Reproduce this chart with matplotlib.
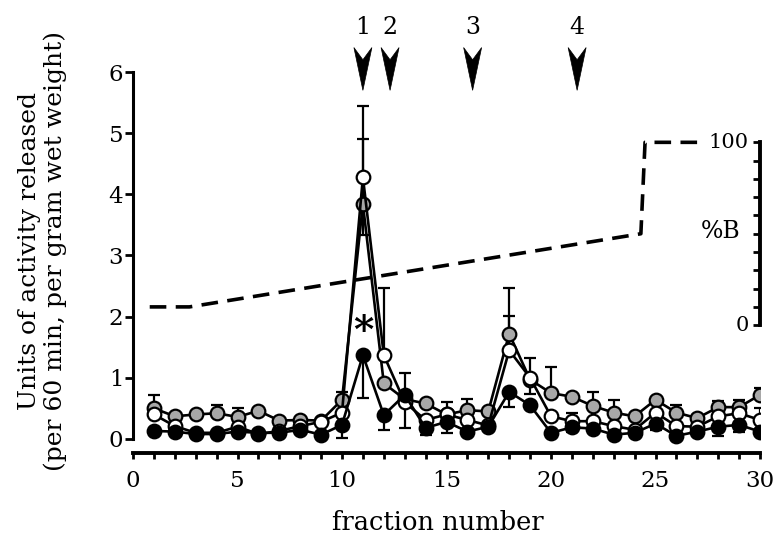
import matplotlib
matplotlib.use("Agg")
import matplotlib.pyplot as plt
import numpy as np
from matplotlib.patches import Polygon

plt.rcParams['font.family'] = ['DejaVu Serif']

# ---------------- data ----------------
fractions = [1, 2, 3, 4, 5, 6, 7, 8, 9, 10, 11, 12, 13, 14, 15,
             16, 17, 18, 19, 20, 21, 22, 23, 24, 25, 26, 27, 28, 29, 30]

filled = [0.13, 0.12, 0.08, 0.08, 0.12, 0.10, 0.10, 0.15, 0.07, 0.23,
          1.37, 0.39, 0.72, 0.18, 0.28, 0.12, 0.20, 0.77, 0.55, 0.10,
          0.19, 0.17, 0.07, 0.10, 0.25, 0.05, 0.12, 0.20, 0.23, 0.12]
filled_err_lo = [0, 0, 0, 0, 0, 0, 0, 0, 0, 0.21,
                 0.70, 0.24, 0.54, 0.11, 0, 0, 0, 0.24, 0, 0,
                 0.07, 0, 0, 0, 0.10, 0, 0, 0.15, 0.11, 0]

open_ = [0.40, 0.21, 0.10, 0.10, 0.20, 0.08, 0.13, 0.21, 0.28, 0.43,
         4.28, 1.37, 0.60, 0.31, 0.40, 0.31, 0.22, 1.45, 1.00, 0.37,
         0.29, 0.29, 0.21, 0.15, 0.43, 0.21, 0.20, 0.37, 0.42, 0.31]
open_err_hi = [0, 0, 0, 0, 0, 0, 0, 0, 0, 0,
               1.16, 1.10, 0.47, 0, 0, 0, 0, 0.56, 0, 0,
               0.13, 0, 0, 0, 0, 0, 0.19, 0, 0, 0.20]
open_err_lo = [0, 0, 0, 0, 0, 0, 0, 0, 0, 0,
               0.95, 0, 0, 0, 0.30, 0, 0, 0, 0.27, 0,
               0, 0, 0, 0, 0, 0, 0, 0, 0, 0]

gray = [0.50, 0.37, 0.40, 0.42, 0.36, 0.46, 0.30, 0.31, 0.30, 0.64,
        3.84, 0.91, 0.65, 0.58, 0.40, 0.47, 0.45, 1.72, 0.97, 0.75,
        0.69, 0.54, 0.43, 0.37, 0.64, 0.43, 0.34, 0.52, 0.52, 0.72]
gray_err_hi = [0.22, 0, 0, 0.14, 0.14, 0, 0, 0, 0, 0.13,
               1.06, 0, 0, 0, 0.20, 0.18, 0, 0.75, 0.36, 0.42,
               0, 0.22, 0.21, 0, 0, 0.12, 0, 0.10, 0.12, 0.11]

# gradient (%B) profile
gradient_x = [0.8, 2.7, 24.3, 24.5, 27.4]
gradient_pct = [10, 10, 50, 100, 100]

# elution arrows
arrow_x = [11.0, 12.3, 16.25, 21.25]
arrow_labels = ["1", "2", "3", "4"]

star_x, star_y = 11.0, 1.75

# ---------------- figure ----------------
W, H = 781, 537
fig = plt.figure(figsize=(W / 100, H / 100), dpi=100)
L, R, T, B = 133, 760, 72, 453
ax = fig.add_axes([L / W, 1 - B / H, (R - L) / W, (B - T) / H])
ymin, ymax = -0.23, 6.0
ax.set_xlim(0, 30)
ax.set_ylim(ymin, ymax)

for s in ['top', 'right']:
    ax.spines[s].set_visible(False)
ax.spines['left'].set_bounds(0, 6)
ax.spines['left'].set_linewidth(2.2)
ax.spines['bottom'].set_bounds(0, 30)
ax.spines['bottom'].set_linewidth(2.8)

ax.set_xticks(range(0, 31, 5))
ax.set_xticks(range(0, 31), minor=True)
ax.set_yticks(range(0, 7))
ax.tick_params(axis='x', which='both', direction='out', length=4, width=2,
               labelsize=16.5, pad=8)
ax.tick_params(axis='y', direction='out', length=5.5, width=2,
               labelsize=16.5, pad=1.5)

x = np.array(fractions, dtype=float)
lw = 1.9
ms = 9.8
mew = 1.6


def err(y, lo, hi):
    y = np.asarray(y)
    lo = np.asarray(lo)
    hi = np.asarray(hi)
    m = (lo > 0) | (hi > 0)
    ax.errorbar(x[m], y[m], yerr=[lo[m], hi[m]], fmt='none', ecolor='black',
                elinewidth=1.6, capsize=4.5, capthick=1.6, zorder=2)


zeros = [0] * len(fractions)
err(gray, zeros, gray_err_hi)
err(open_, open_err_lo, open_err_hi)
err(filled, filled_err_lo, zeros)

ax.plot(x, gray, '-o', color='black', lw=lw, ms=ms, mfc='#a8a8a8',
        mec='black', mew=mew, zorder=3)
ax.plot(x, open_, '-o', color='black', lw=lw, ms=ms, mfc='white',
        mec='black', mew=mew, zorder=4)
ax.plot(x, filled, '-o', color='black', lw=lw, ms=ms, mfc='black',
        mec='black', mew=mew, zorder=5)

ax.text(star_x, star_y, "*", fontsize=28, ha='center', va='center',
        fontweight='bold')

# arrows
aw, atop, anotch, atip = 0.43, 6.40, 6.20, 5.70
for xa, lab in zip(arrow_x, arrow_labels):
    poly = Polygon([(xa - aw, atop), (xa, anotch), (xa + aw, atop), (xa, atip)],
                   closed=True, facecolor='black', edgecolor='black',
                   lw=0.5, clip_on=False, zorder=6)
    ax.add_patch(poly)
    ax.text(xa, 6.73, lab, fontsize=17, ha='center', va='center')

# %B axis
lo_ref, hi_ref = 1.86, 4.85


def to_pct(v):
    return (v - lo_ref) / (hi_ref - lo_ref) * 100


ax2 = ax.twinx()
ax2.set_ylim(to_pct(ymin), to_pct(ymax))
for s in ['top', 'left', 'bottom']:
    ax2.spines[s].set_visible(False)
ax2.spines['right'].set_bounds(0, 100)
ax2.spines['right'].set_linewidth(2.8)
ax2.set_yticks(range(0, 101, 10))
ax2.tick_params(axis='y', direction='in', length=5, width=2,
                labelright=False)
ax2.plot(gradient_x, gradient_pct, color='black', lw=2.6,
         dashes=(4.6, 2.6), zorder=1)
ax2.text(29.45, 100, "100", fontsize=15, ha='right', va='center')
ax2.text(29.45, 0, "0", fontsize=15, ha='right', va='center')
ax2.text(28.1, 51, "%B", fontsize=17, ha='center', va='center')

# labels
fig.text(30 / W, 1 - 251 / H, "Units of activity released", rotation=90,
         ha='center', va='center', fontsize=18)
fig.text(55 / W, 1 - 251 / H, "(per 60 min, per gram wet weight)",
         rotation=90, ha='center', va='center', fontsize=18)
fig.text(438 / W, 1 - 530 / H, "fraction number", ha='center',
         va='baseline', fontsize=18.5)

fig.savefig("out.png", dpi=100)
